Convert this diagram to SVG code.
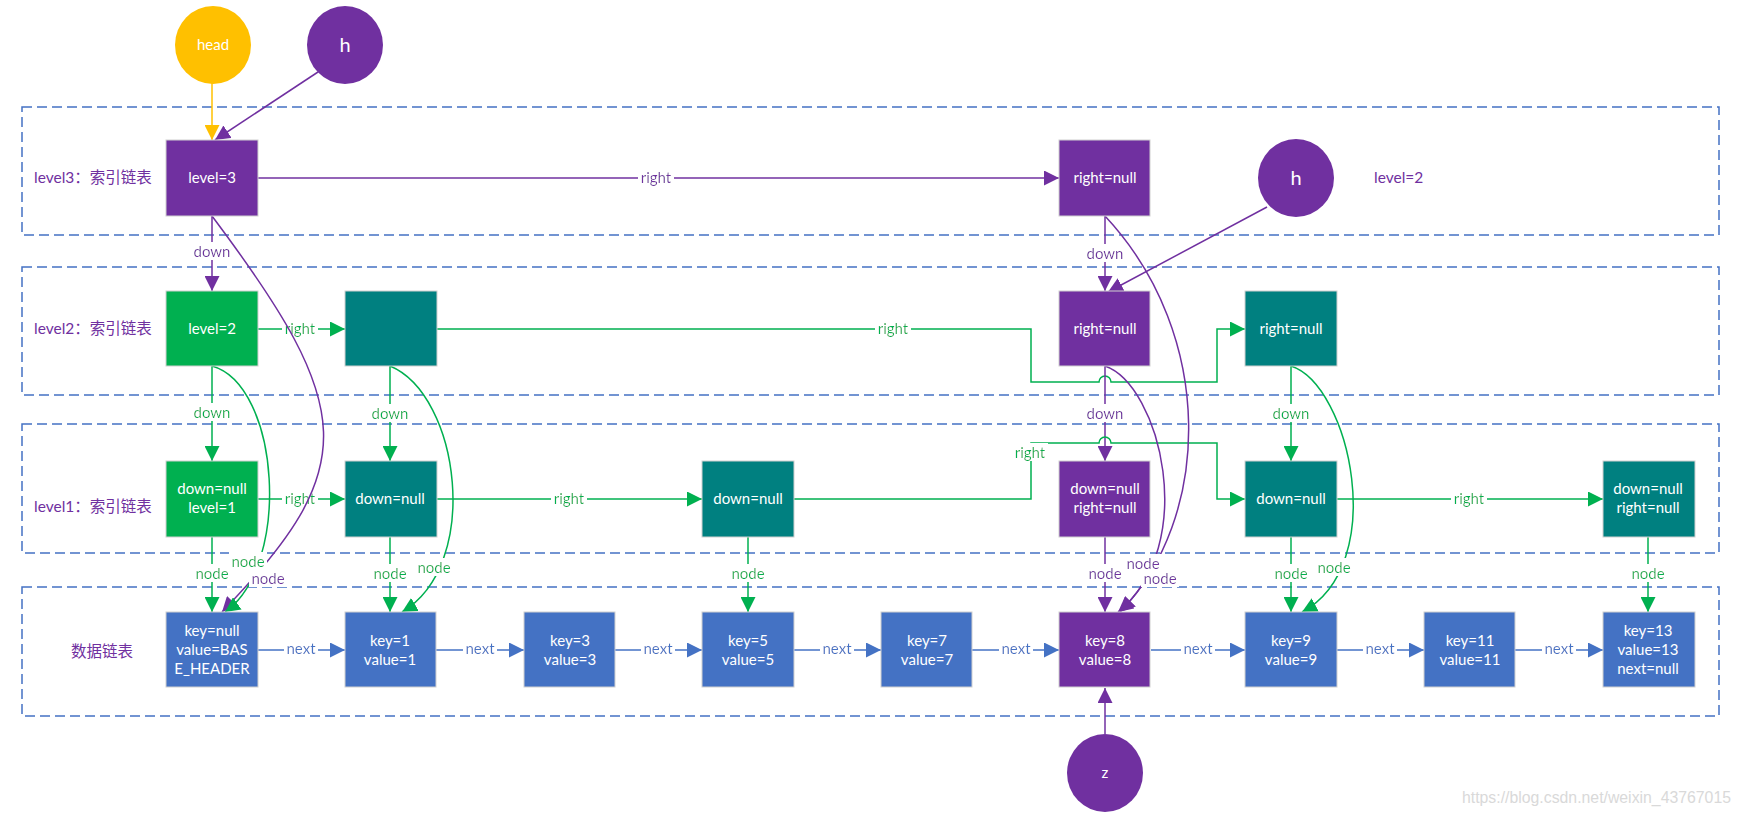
<svg xmlns="http://www.w3.org/2000/svg" width="1743" height="817" viewBox="0 0 1743 817">
<style>
.bx{fill:none;stroke:#4472C4;stroke-width:1.5;stroke-dasharray:10 5}
.n{stroke:#D0D0D0;stroke-width:1}
.pu{fill:#7030A0}.gr{fill:#00B050}.te{fill:#008080}.bl{fill:#4472C4}.ye{fill:#FFC000}
.t{font-family:Lato,"Noto Sans CJK SC",sans-serif;font-size:15px;fill:#fff;text-anchor:middle}
.big{font-size:20px}
.cp,.cg,.cb,.cy{fill:none;stroke-width:1.5}
.cp{stroke:#7030A0;marker-end:url(#mp)}.cg{stroke:#00B050;marker-end:url(#mg)}.cb{stroke:#4472C4;marker-end:url(#mb)}.cy{stroke:#FFC000;marker-end:url(#my)}
.l{font-family:Lato,"Noto Sans CJK SC",sans-serif;font-size:15px;text-anchor:middle;filter:url(#bg)}
.lp{fill:#7030A0}.lg{fill:#00B050}.lb{fill:#4472C4}
.lv{font-family:Lato,"Noto Sans CJK SC",sans-serif;font-size:15.5px;fill:#7030A0}
</style>
<defs>
<filter id="bg" x="-0.06" y="0" width="1.12" height="1"><feFlood flood-color="#fff"/><feComposite in="SourceGraphic" operator="over"/></filter>
<marker id="mp" markerUnits="userSpaceOnUse" markerWidth="15" markerHeight="15" refX="15" refY="7.5" orient="auto"><path d="M0,0L15,7.5L0,15Z" fill="#7030A0"/></marker>
<marker id="mg" markerUnits="userSpaceOnUse" markerWidth="15" markerHeight="15" refX="15" refY="7.5" orient="auto"><path d="M0,0L15,7.5L0,15Z" fill="#00B050"/></marker>
<marker id="mb" markerUnits="userSpaceOnUse" markerWidth="15" markerHeight="15" refX="15" refY="7.5" orient="auto"><path d="M0,0L15,7.5L0,15Z" fill="#4472C4"/></marker>
<marker id="my" markerUnits="userSpaceOnUse" markerWidth="15" markerHeight="15" refX="15" refY="7.5" orient="auto"><path d="M0,0L15,7.5L0,15Z" fill="#FFC000"/></marker>
</defs>
<rect width="1743" height="817" fill="#fff"/>

<g id="frames">
<rect class="bx" x="22" y="107" width="1697" height="128"/>
<rect class="bx" x="22" y="267" width="1697" height="128"/>
<rect class="bx" x="22" y="424" width="1697" height="129"/>
<rect class="bx" x="22" y="587" width="1697" height="129"/>
<text class="lv" x="34" y="183">level3：索引链表</text>
<text class="lv" x="34" y="334">level2：索引链表</text>
<text class="lv" x="34" y="512">level1：索引链表</text>
<text class="lv" x="71" y="657">数据链表</text>
<text class="lv" x="1374" y="183">level=2</text>
</g>

<g id="connectors">
<line class="cy" x1="212" y1="83" x2="212" y2="140"/>
<line class="cp" x1="318" y1="72" x2="215" y2="140"/>
<line class="cp" x1="1267" y1="207" x2="1108" y2="292"/>
<line class="cp" x1="1105" y1="734" x2="1105" y2="688"/>
<!-- level3 -->
<line class="cp" x1="258" y1="178" x2="1059" y2="178"/>
<line class="cp" x1="212" y1="216" x2="212" y2="291"/>
<line class="cp" x1="1105" y1="216" x2="1105" y2="291"/>
<!-- level2 -->
<line class="cg" x1="258" y1="329" x2="345" y2="329"/>
<path class="cg" d="M437,329H1031V382H1099A6,6 0 0 1 1111,382H1217V329H1245"/>
<line class="cg" x1="212" y1="366" x2="212" y2="461"/>
<line class="cg" x1="390" y1="366" x2="390" y2="461"/>
<line class="cp" x1="1105" y1="366" x2="1105" y2="461"/>
<line class="cg" x1="1291" y1="366" x2="1291" y2="461"/>
<!-- level1 -->
<line class="cg" x1="258" y1="499" x2="345" y2="499"/>
<line class="cg" x1="437" y1="499" x2="702" y2="499"/>
<path class="cg" d="M794,499H1031V443H1099A6,6 0 0 1 1111,443H1217V499H1245"/>
<line class="cg" x1="1337" y1="499" x2="1603" y2="499"/>
<line class="cg" x1="212" y1="537" x2="212" y2="612"/>
<line class="cg" x1="390" y1="537" x2="390" y2="612"/>
<line class="cg" x1="748" y1="537" x2="748" y2="612"/>
<line class="cp" x1="1105" y1="537" x2="1105" y2="612"/>
<line class="cg" x1="1291" y1="537" x2="1291" y2="612"/>
<line class="cg" x1="1648" y1="537" x2="1648" y2="612"/>
<!-- data -->
<line class="cb" x1="258" y1="650" x2="345" y2="650"/>
<line class="cb" x1="436" y1="650" x2="524" y2="650"/>
<line class="cb" x1="615" y1="650" x2="702" y2="650"/>
<line class="cb" x1="794" y1="650" x2="881" y2="650"/>
<line class="cb" x1="972" y1="650" x2="1059" y2="650"/>
<line class="cb" x1="1151" y1="650" x2="1245" y2="650"/>
<line class="cb" x1="1337" y1="650" x2="1424" y2="650"/>
<line class="cb" x1="1515" y1="650" x2="1603" y2="650"/>
<!-- labels -->
<text class="l lp" x="656" y="183">right</text>
<text class="l lp" x="212" y="257">down</text>
<text class="l lp" x="1105" y="259">down</text>
<text class="l lg" x="300" y="334">right</text>
<text class="l lg" x="893" y="334">right</text>
<text class="l lg" x="212" y="418">down</text>
<text class="l lg" x="390" y="419">down</text>
<text class="l lp" x="1105" y="419">down</text>
<text class="l lg" x="1291" y="419">down</text>
<text class="l lg" x="300" y="504">right</text>
<text class="l lg" x="569" y="504">right</text>
<text class="l lg" x="1030" y="458">right</text>
<text class="l lg" x="1469" y="504">right</text>
<text class="l lg" x="212" y="579">node</text>
<text class="l lg" x="390" y="579">node</text>
<text class="l lg" x="748" y="579">node</text>
<text class="l lp" x="1105" y="579">node</text>
<text class="l lg" x="1291" y="579">node</text>
<text class="l lg" x="1648" y="579">node</text>
<text class="l lb" x="301" y="654">next</text>
<text class="l lb" x="480" y="654">next</text>
<text class="l lb" x="658" y="654">next</text>
<text class="l lb" x="837" y="654">next</text>
<text class="l lb" x="1016" y="654">next</text>
<text class="l lb" x="1198" y="654">next</text>
<text class="l lb" x="1380" y="654">next</text>
<text class="l lb" x="1559" y="654">next</text>
<!-- node curves -->
<path class="cp" d="M212,216C356,408 362,467 222,612"/>
<path class="cg" d="M212,366C280,385 292,565 225,612"/>
<path class="cg" d="M390,366C460,395 482,565 402,612"/>
<path class="cp" d="M1105,216C1217,336 1211,519 1120,612"/>
<path class="cp" d="M1105,366C1160,385 1200,545 1118,612"/>
<path class="cg" d="M1291,366C1350,385 1390,565 1302,612"/>
<text class="l lg" x="248" y="567">node</text>
<text class="l lp" x="268" y="584">node</text>
<text class="l lg" x="434" y="573">node</text>
<text class="l lp" x="1143" y="569">node</text>
<text class="l lp" x="1160" y="584">node</text>
<text class="l lg" x="1334" y="573">node</text>
</g>

<g id="head"><ellipse class="ye" cx="213" cy="45" rx="38" ry="39"/><text class="t" x="213" y="50">head</text></g>
<g id="h1"><ellipse class="pu" cx="345" cy="45" rx="38" ry="39"/><text class="t big" x="345" y="52">h</text></g>
<g id="h2"><ellipse class="pu" cx="1296" cy="178" rx="38" ry="39"/><text class="t big" x="1296" y="185">h</text></g>
<g id="z"><ellipse class="pu" cx="1105" cy="773" rx="38" ry="39"/><text class="t" x="1105" y="778">z</text></g>

<g id="l3-head"><rect class="n pu" x="166" y="140" width="92" height="76"/><text class="t" x="212" y="183">level=3</text></g>
<g id="l3-r"><rect class="n pu" x="1059" y="140" width="91" height="76"/><text class="t" x="1105" y="183">right=null</text></g>

<g id="l2-head"><rect class="n gr" x="166" y="291" width="92" height="75"/><text class="t" x="212" y="334">level=2</text></g>
<g id="l2-1"><rect class="n te" x="345" y="291" width="92" height="75"/></g>
<g id="l2-8"><rect class="n pu" x="1059" y="291" width="91" height="75"/><text class="t" x="1105" y="334">right=null</text></g>
<g id="l2-9"><rect class="n te" x="1245" y="291" width="92" height="75"/><text class="t" x="1291" y="334">right=null</text></g>

<g id="l1-head"><rect class="n gr" x="166" y="461" width="92" height="76"/><text class="t" x="212" y="494">down=null</text><text class="t" x="212" y="513">level=1</text></g>
<g id="l1-1"><rect class="n te" x="345" y="461" width="92" height="76"/><text class="t" x="390" y="504">down=null</text></g>
<g id="l1-5"><rect class="n te" x="702" y="461" width="92" height="76"/><text class="t" x="748" y="504">down=null</text></g>
<g id="l1-8"><rect class="n pu" x="1059" y="461" width="91" height="76"/><text class="t" x="1105" y="494">down=null</text><text class="t" x="1105" y="513">right=null</text></g>
<g id="l1-9"><rect class="n te" x="1245" y="461" width="92" height="76"/><text class="t" x="1291" y="504">down=null</text></g>
<g id="l1-13"><rect class="n te" x="1603" y="461" width="92" height="76"/><text class="t" x="1648" y="494">down=null</text><text class="t" x="1648" y="513">right=null</text></g>

<g id="d-head"><rect class="n bl" x="166" y="612" width="92" height="75"/><text class="t" x="212" y="636">key=null</text><text class="t" x="212" y="655">value=BAS</text><text class="t" x="212" y="674">E_HEADER</text></g>
<g id="d-1"><rect class="n bl" x="345" y="612" width="91" height="75"/><text class="t" x="390" y="646">key=1</text><text class="t" x="390" y="665">value=1</text></g>
<g id="d-3"><rect class="n bl" x="524" y="612" width="91" height="75"/><text class="t" x="570" y="646">key=3</text><text class="t" x="570" y="665">value=3</text></g>
<g id="d-5"><rect class="n bl" x="702" y="612" width="92" height="75"/><text class="t" x="748" y="646">key=5</text><text class="t" x="748" y="665">value=5</text></g>
<g id="d-7"><rect class="n bl" x="881" y="612" width="91" height="75"/><text class="t" x="927" y="646">key=7</text><text class="t" x="927" y="665">value=7</text></g>
<g id="d-8"><rect class="n pu" x="1059" y="612" width="91" height="75"/><text class="t" x="1105" y="646">key=8</text><text class="t" x="1105" y="665">value=8</text></g>
<g id="d-9"><rect class="n bl" x="1245" y="612" width="92" height="75"/><text class="t" x="1291" y="646">key=9</text><text class="t" x="1291" y="665">value=9</text></g>
<g id="d-11"><rect class="n bl" x="1424" y="612" width="91" height="75"/><text class="t" x="1470" y="646">key=11</text><text class="t" x="1470" y="665">value=11</text></g>
<g id="d-13"><rect class="n bl" x="1603" y="612" width="92" height="75"/><text class="t" x="1648" y="636">key=13</text><text class="t" x="1648" y="655">value=13</text><text class="t" x="1648" y="674">next=null</text></g>

<text x="1462" y="803" font-family="Liberation Sans, sans-serif" font-size="16" fill="#D9D9D9" textLength="269" lengthAdjust="spacingAndGlyphs">https://blog.csdn.net/weixin_43767015</text>
</svg>
